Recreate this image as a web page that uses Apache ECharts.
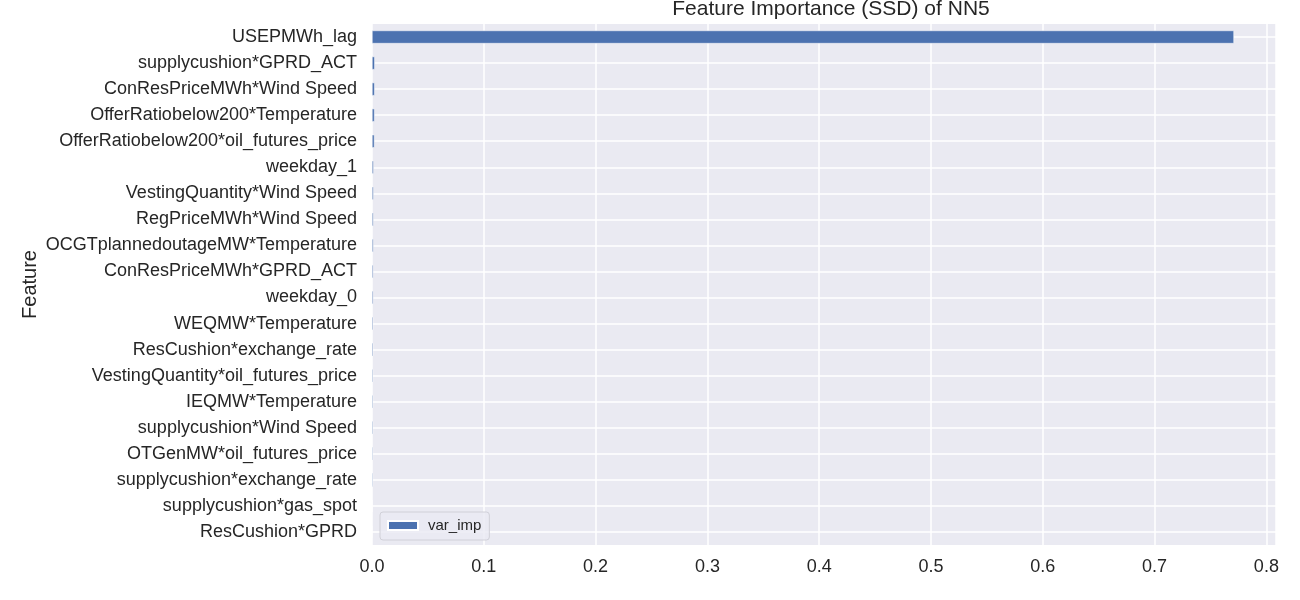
<!DOCTYPE html>
<html>
<head>
<meta charset="utf-8">
<script src="https://cdn.jsdelivr.net/npm/echarts@6/dist/echarts.min.js"></script>
<style>html,body{margin:0;padding:0;background:#fff}#c{width:1300px;height:600px}</style>
</head>
<body>
<div id="c"></div>
<script>
const categories = [
  "USEPMWh_lag",
  "supplycushion*GPRD_ACT",
  "ConResPriceMWh*Wind Speed",
  "OfferRatiobelow200*Temperature",
  "OfferRatiobelow200*oil_futures_price",
  "weekday_1",
  "VestingQuantity*Wind Speed",
  "RegPriceMWh*Wind Speed",
  "OCGTplannedoutageMW*Temperature",
  "ConResPriceMWh*GPRD_ACT",
  "weekday_0",
  "WEQMW*Temperature",
  "ResCushion*exchange_rate",
  "VestingQuantity*oil_futures_price",
  "IEQMW*Temperature",
  "supplycushion*Wind Speed",
  "OTGenMW*oil_futures_price",
  "supplycushion*exchange_rate",
  "supplycushion*gas_spot",
  "ResCushion*GPRD"
];
const varImp = [0.771, 0.0025, 0.0024, 0.0023, 0.0022, 0.0015, 0.0014, 0.0013, 0.0013, 0.0012,
  0.0012, 0.0011, 0.0011, 0.0010, 0.0010, 0.0010, 0.0009, 0.0009, 0.0004, 0.0003];
const xTicks = [0.0, 0.1, 0.2, 0.3, 0.4, 0.5, 0.6, 0.7, 0.8];
const titleText = "Feature Importance (SSD) of NN5";
const yName = "Feature";
const seriesName = "var_imp";

const FONT = "'Liberation Sans', Arial, sans-serif";
const chart = echarts.init(document.getElementById('c'));
chart.setOption({
  animation: false,
  title: {
    text: titleText, left: 826, textAlign: 'center', top: -6,
    textStyle: {fontFamily: FONT, fontSize: 21, fontWeight: 'normal', color: '#262626'}
  },
  grid: {left: 372, right: 24, top: 24, bottom: 55, show: true, backgroundColor: '#EAEAF2', borderWidth: 0, containLabel: false},
  legend: {
    left: 380, top: 512, orient: 'vertical',
    padding: [6, 8, 7, 7],
    backgroundColor: 'rgba(234,234,242,0.8)', borderColor: '#d0d0d8', borderWidth: 1, borderRadius: 3,
    itemWidth: 30, itemHeight: 9, itemGap: 6,
    textStyle: {fontFamily: FONT, fontSize: 15, color: '#262626', padding: [0, 0, 0, 5]},
    data: [{name: seriesName, icon: 'rect'}]
  },
  xAxis: {
    type: 'value', min: 0, max: 0.8086, interval: 0.1,
    axisLine: {show: false}, axisTick: {show: false},
    axisLabel: {
      fontFamily: FONT, fontSize: 18, color: '#262626', margin: 13, showMaxLabel: false,
      formatter: v => {
        const t = xTicks.find(x => Math.abs(x - v) < 1e-6);
        return t === undefined ? '' : t.toFixed(1);
      }
    },
    splitLine: {show: true, lineStyle: {color: '#ffffff', width: 1.5}}
  },
  yAxis: {
    type: 'category', data: categories, inverse: true,
    name: yName, nameLocation: 'middle', nameGap: 332, nameRotate: 90, nameMoveOverlap: false,
    nameTextStyle: {fontFamily: FONT, fontSize: 20, color: '#262626'},
    axisLine: {show: false}, axisTick: {show: false},
    axisLabel: {fontFamily: FONT, fontSize: 18, color: '#262626', margin: 15},
    splitLine: {show: false}
  },
  series: [{
    name: seriesName, type: 'bar', data: varImp, barWidth: '50%',
    itemStyle: {color: '#4C72B0', borderColor: '#ffffff', borderWidth: 0.5},
    z: 2,
    markLine: {
      silent: true, symbol: 'none', z: 1, animation: false,
      label: {show: false},
      lineStyle: {color: '#ffffff', width: 1.5, type: 'solid'},
      data: categories.map(c => ({yAxis: c}))
    }
  }]
});
</script>
</body>
</html>
